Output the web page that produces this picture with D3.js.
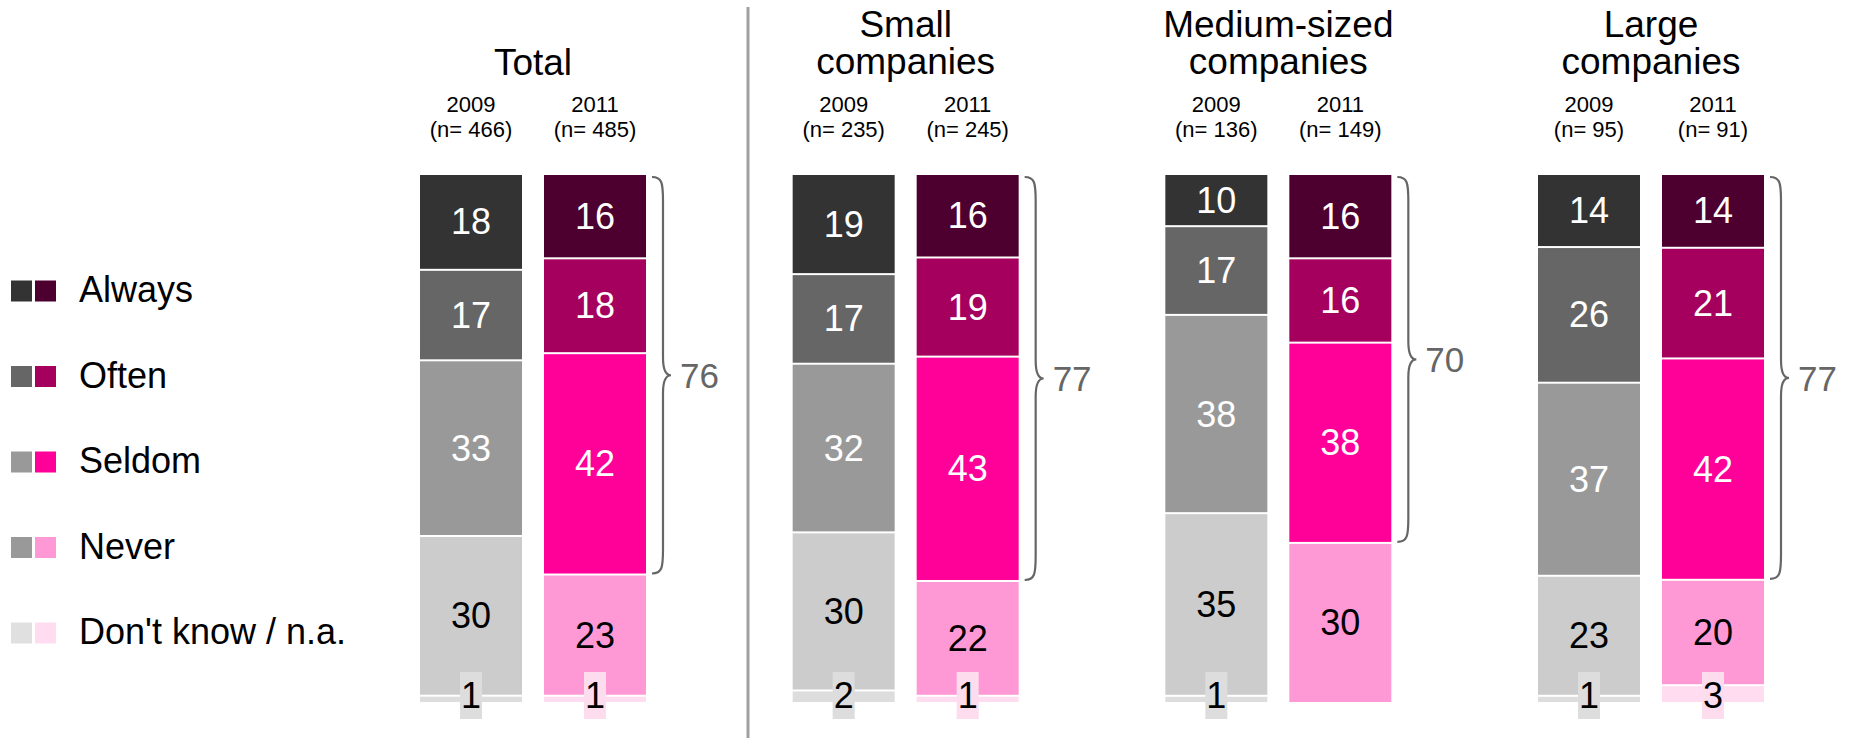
<!DOCTYPE html>
<html>
<head>
<meta charset="utf-8">
<script src="https://cdn.jsdelivr.net/npm/d3@7"></script>
<style>
  html, body { margin: 0; padding: 0; background: #fff; }
  svg { display: block; font-family: "Liberation Sans", Arial, sans-serif; }
</style>
</head>
<body>
<svg id="chart" width="1859" height="738"></svg>
<script>
// ---- data ----
const groups = ["Total", "Small companies", "Medium-sized companies", "Large companies"];
const groupTitleLines = [["Total"], ["Small", "companies"], ["Medium-sized", "companies"], ["Large", "companies"]];
const years = ["2009", "2011"];
const nValues2009 = [466, 235, 136, 95];
const nValues2011 = [485, 245, 149, 91];
const categories = ["Always", "Often", "Seldom", "Never", "Don't know / n.a."];
const values2009 = [
  [18, 17, 33, 30, 1],
  [19, 17, 32, 30, 2],
  [10, 17, 38, 35, 1],
  [14, 26, 37, 23, 1]
];
const values2011 = [
  [16, 18, 42, 23, 1],
  [16, 19, 43, 22, 1],
  [16, 16, 38, 30, 0],
  [14, 21, 42, 20, 3]
];
const bracketTotals = [76, 77, 70, 77];

// ---- styles ----
const colors2009 = ["#333333", "#666666", "#999999", "#cccccc", "#dddddd"];
const colors2011 = ["#4d0030", "#a6005f", "#ff0099", "#ff99d5", "#ffdcef"];
const legendColors2009 = ["#333333", "#666666", "#999999", "#999999", "#e0e0e0"];
const legendColors2011 = ["#4d0030", "#a6005f", "#ff0099", "#ff99d5", "#ffdcef"];
const labelColors = ["#fff", "#fff", "#fff", "#000", "#000"];
const boxColors = ["#dddddd", "#fddcee"];

const svg = d3.select("#chart");

// scales
const xGroup = d3.scalePoint().domain(groups).range([533, 1651]);
const xYear = d3.scaleBand().domain(years).range([-113, 113]).paddingInner(0.1774);
const y = d3.scaleLinear().domain([0, 100]).range([175, 702]);

// divider
svg.append("line")
  .attr("x1", 748).attr("x2", 748).attr("y1", 7).attr("y2", 738)
  .attr("stroke", "#a0a0a0").attr("stroke-width", 3);

// legend
const legendY = d3.scalePoint().domain(categories).range([291, 633]);
const leg = svg.append("g");
categories.forEach((c, i) => {
  const cy = legendY(c);
  leg.append("rect").attr("x", 11).attr("y", cy - 10.5).attr("width", 21).attr("height", 21).attr("fill", legendColors2009[i]);
  leg.append("rect").attr("x", 35).attr("y", cy - 10.5).attr("width", 21).attr("height", 21).attr("fill", legendColors2011[i]);
  leg.append("text").attr("x", 79).attr("y", cy + 11).attr("font-size", 36).attr("fill", "#000").text(c);
});

groups.forEach((g, gi) => {
  const gx = xGroup(g);
  const gEl = svg.append("g");

  // title
  const lines = groupTitleLines[gi];
  const baselines = lines.length === 1 ? [75] : [37, 74];
  lines.forEach((ln, li) => {
    gEl.append("text").attr("x", gx).attr("y", baselines[li])
      .attr("text-anchor", "middle").attr("font-size", 37).attr("fill", "#000").text(ln);
  });

  const sets = [values2009[gi], values2011[gi]];
  const ns = [nValues2009[gi], nValues2011[gi]];
  const cols = [colors2009, colors2011];

  years.forEach((yr, yi) => {
    const bx = gx + xYear(yr);
    const bw = xYear.bandwidth();
    const cx = bx + bw / 2;
    gEl.append("text").attr("x", cx).attr("y", 111.5).attr("text-anchor", "middle")
      .attr("font-size", 22).attr("fill", "#000").text(yr);
    gEl.append("text").attr("x", cx).attr("y", 137).attr("text-anchor", "middle")
      .attr("font-size", 22).attr("fill", "#000").text("(n= " + ns[yi] + ")");

    const vals = sets[yi];
    const sum = d3.sum(vals);
    const stack = [];
    let acc = 0;
    vals.forEach((v, ci) => {
      const s0 = acc / sum * 100;
      acc += v;
      const s1 = acc / sum * 100;
      stack.push({ v, ci, s0, s1 });
    });

    stack.forEach(d => {
      if (d.v <= 0) return;
      const isLast = d.ci === vals.length - 1 || vals.slice(d.ci + 1).every(v => v === 0);
      const y0 = y(d.s0);
      const y1 = isLast ? y(d.s1) : y(d.s1) - 2;
      gEl.append("rect").attr("x", bx).attr("y", y0).attr("width", bw).attr("height", Math.max(0, y1 - y0))
        .attr("fill", cols[yi][d.ci]);
      if (d.ci < 4) {
        gEl.append("text").attr("x", cx).attr("y", (y0 + y1) / 2)
          .attr("text-anchor", "middle").attr("dominant-baseline", "central")
          .attr("font-size", 36).attr("fill", labelColors[d.ci]).text(d.v);
      } else {
        const t = gEl.append("text").attr("x", cx).attr("y", 708)
          .attr("text-anchor", "middle").attr("font-size", 36).attr("fill", "#000").text(d.v);
        const w = t.node().getComputedTextLength() + 2;
        gEl.insert("rect", function() { return t.node(); })
          .attr("x", cx - w / 2).attr("y", 672).attr("width", w).attr("height", 47)
          .attr("fill", boxColors[yi]);
      }
    });

    // bracket for 2011 (Always+Often+Seldom)
    if (yi === 1) {
      const top = y(stack[0].s0) + 2;
      const bot = y(stack[2].s1) - 2;
      const mid = (top + bot) / 2;
      const x0 = bx + bw + 6, x1 = x0 + 11, x2 = x0 + 19, rEnd = 24, rMid = 18;
      const p = d3.path();
      p.moveTo(x0, top);
      p.bezierCurveTo(x1 - 1, top, x1, top + 6, x1, top + rEnd);
      p.lineTo(x1, mid - rMid);
      p.bezierCurveTo(x1, mid - 5, x1 + 3, mid, x2, mid);
      p.bezierCurveTo(x1 + 3, mid, x1, mid + 5, x1, mid + rMid);
      p.lineTo(x1, bot - rEnd);
      p.bezierCurveTo(x1, bot - 6, x1 - 1, bot, x0, bot);
      gEl.append("path").attr("d", p.toString()).attr("fill", "none")
        .attr("stroke", "#666").attr("stroke-width", 2.2);
      gEl.append("text").attr("x", x2 + 9).attr("y", mid + 13)
        .attr("font-size", 35).attr("fill", "#666").text(bracketTotals[gi]);
    }
  });
});
</script>
</body>
</html>
